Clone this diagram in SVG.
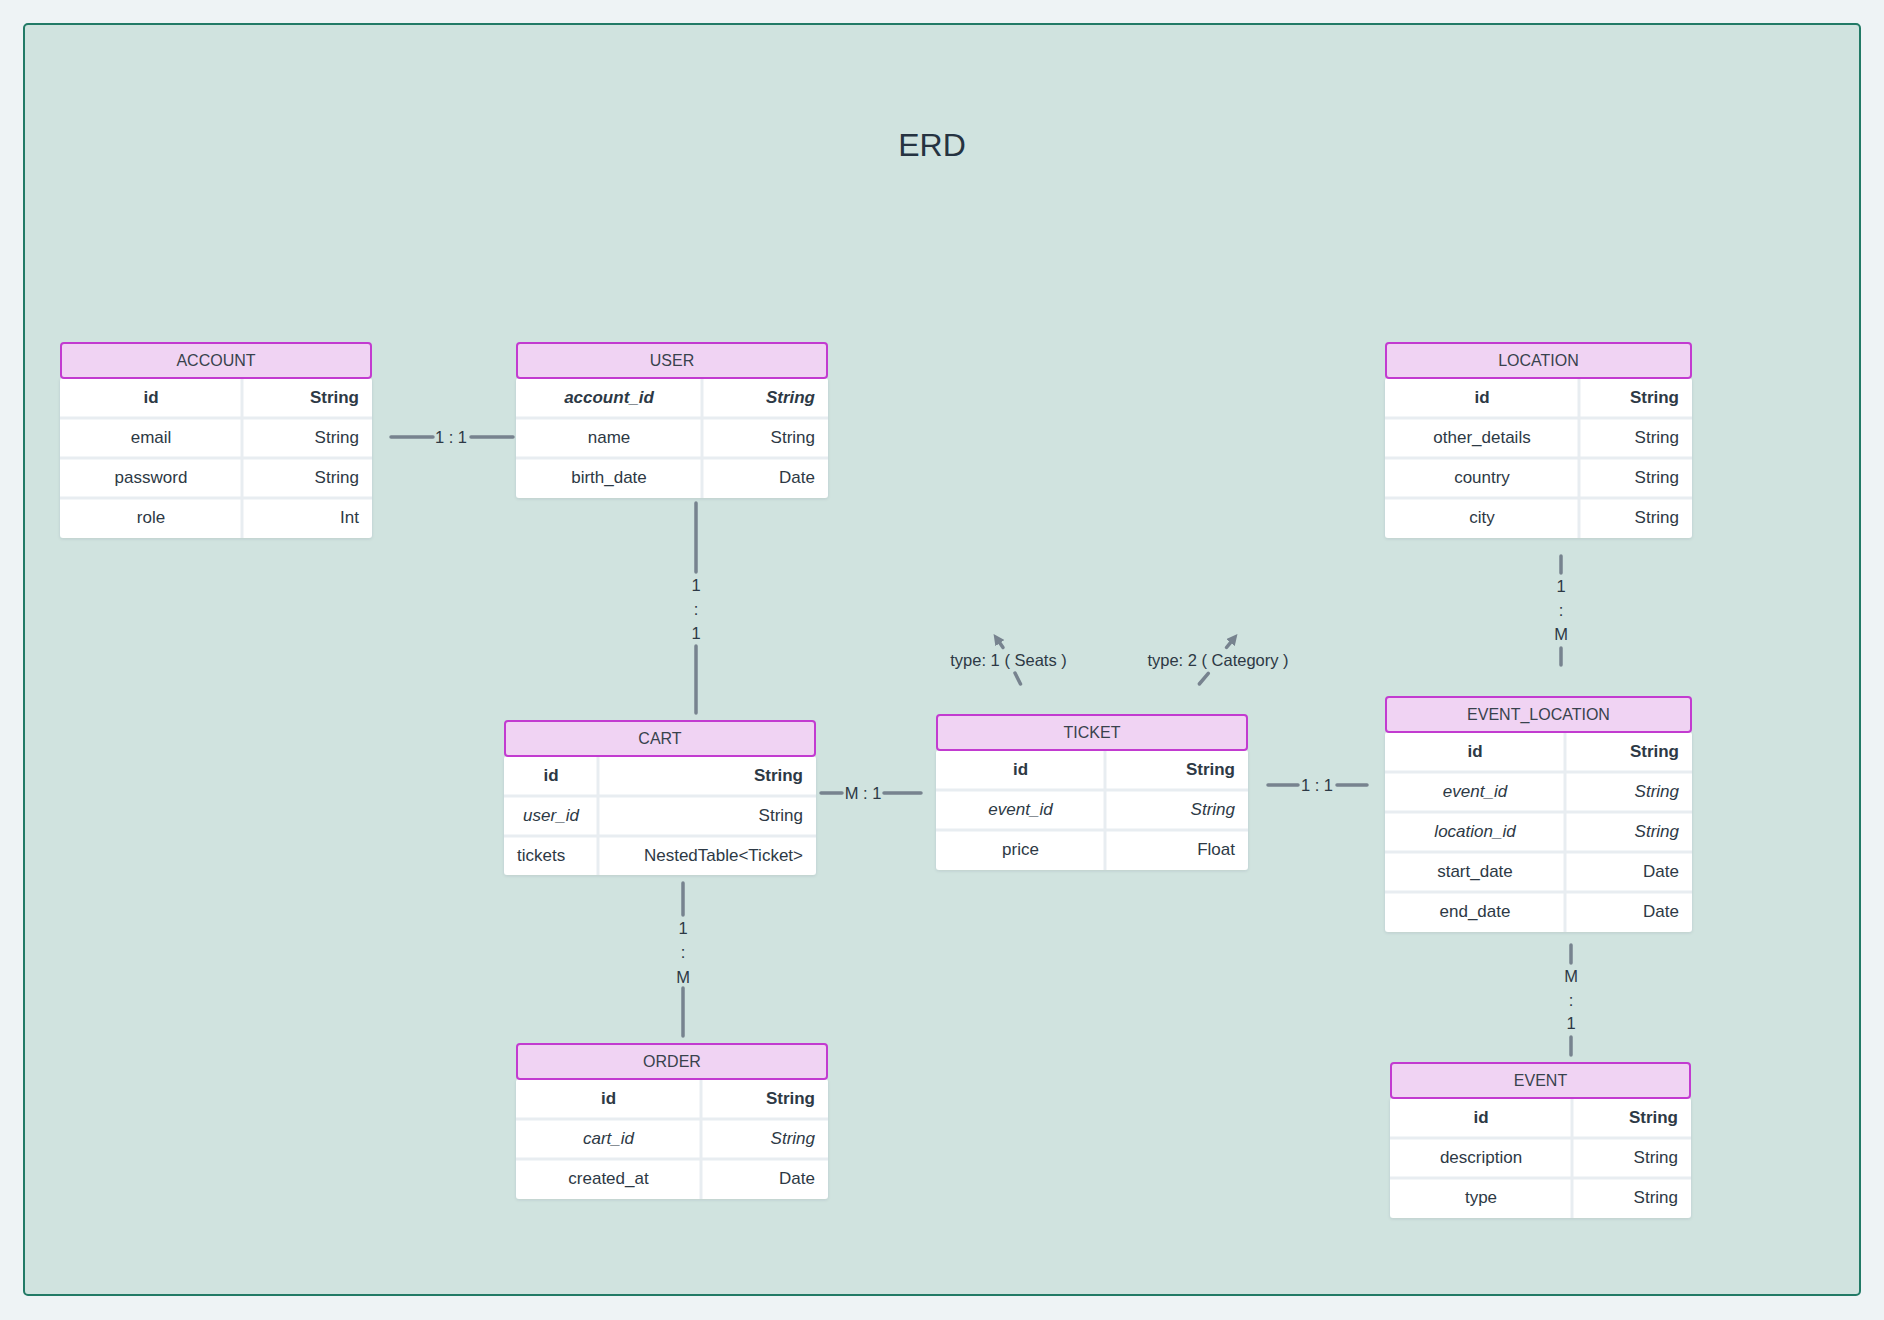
<svg xmlns="http://www.w3.org/2000/svg" width="1884" height="1320" viewBox="0 0 1884 1320">
  <defs>
    <filter id="sh" x="-5%" y="-5%" width="110%" height="115%">
      <feDropShadow dx="0" dy="1" stdDeviation="1.5" flood-color="#2b3a46" flood-opacity="0.12"/>
    </filter>
    <marker id="ah" viewBox="0 0 10 10" refX="0" refY="5" markerWidth="11" markerHeight="11" markerUnits="userSpaceOnUse" orient="auto">
      <path d="M0,0 L10,5 L0,10 z" fill="#77838f"/>
    </marker>
    <style>
      .bg { fill: #eef3f5; }
      .frame { fill: #d0e3df; stroke: #227a66; stroke-width: 2; }
      .title { font-family: "Liberation Sans", Arial, sans-serif; font-size: 32px; fill: #253341; text-anchor: middle; }
      .hdr { fill: #f0d3f3; stroke: #c23bd0; stroke-width: 2; }
      .body { fill: #ffffff; filter: url(#sh); }
      .sep { stroke: #e8edf1; stroke-width: 3; }
      .t { font-family: "Liberation Sans", Arial, sans-serif; font-size: 17px; fill: #2d3945; }
      .h { font-size: 16px; fill: #38424d; text-anchor: middle; }
      .c { text-anchor: middle; }
      .r { text-anchor: end; }
      .s { text-anchor: start; }
      .b { font-weight: bold; }
      .i { font-style: italic; }
      .edge { stroke: #77838f; stroke-width: 3.5; stroke-linecap: round; fill: none; }
      .lbl { font-family: "Liberation Sans", Arial, sans-serif; font-size: 16.5px; fill: #2d3945; text-anchor: middle; }
    </style>
  </defs>

  <rect class="bg" x="0" y="0" width="1884" height="1320"/>
  <rect class="frame" x="24" y="24" width="1836" height="1271" rx="4"/>
  <text class="title" x="932" y="156">ERD</text>

  <!-- ACCOUNT -->
  <g id="account">
    <rect class="body" x="60" y="378" width="312" height="160" rx="3"/>
    <line class="sep" x1="60" y1="418" x2="372" y2="418"/>
    <line class="sep" x1="60" y1="458" x2="372" y2="458"/>
    <line class="sep" x1="60" y1="498" x2="372" y2="498"/>
    <line class="sep" x1="242" y1="378" x2="242" y2="538"/>
    <rect class="hdr" x="61" y="343" width="310" height="35" rx="3"/>
    <text class="t h" x="216" y="365.5">ACCOUNT</text>
    <text class="t c b" x="151" y="403">id</text>
    <text class="t r b" x="359" y="403">String</text>
    <text class="t c" x="151" y="443">email</text>
    <text class="t r" x="359" y="443">String</text>
    <text class="t c" x="151" y="483">password</text>
    <text class="t r" x="359" y="483">String</text>
    <text class="t c" x="151" y="523">role</text>
    <text class="t r" x="359" y="523">Int</text>
  </g>

  <!-- USER -->
  <g id="user">
    <rect class="body" x="516" y="378" width="312" height="120" rx="3"/>
    <line class="sep" x1="516" y1="418" x2="828" y2="418"/>
    <line class="sep" x1="516" y1="458" x2="828" y2="458"/>
    <line class="sep" x1="702" y1="378" x2="702" y2="498"/>
    <rect class="hdr" x="517" y="343" width="310" height="35" rx="3"/>
    <text class="t h" x="672" y="365.5">USER</text>
    <text class="t c b i" x="609" y="403">account_id</text>
    <text class="t r b i" x="815" y="403">String</text>
    <text class="t c" x="609" y="443">name</text>
    <text class="t r" x="815" y="443">String</text>
    <text class="t c" x="609" y="483">birth_date</text>
    <text class="t r" x="815" y="483">Date</text>
  </g>

  <!-- LOCATION -->
  <g id="location">
    <rect class="body" x="1385" y="378" width="307" height="160" rx="3"/>
    <line class="sep" x1="1385" y1="418" x2="1692" y2="418"/>
    <line class="sep" x1="1385" y1="458" x2="1692" y2="458"/>
    <line class="sep" x1="1385" y1="498" x2="1692" y2="498"/>
    <line class="sep" x1="1579" y1="378" x2="1579" y2="538"/>
    <rect class="hdr" x="1386" y="343" width="305" height="35" rx="3"/>
    <text class="t h" x="1538.5" y="365.5">LOCATION</text>
    <text class="t c b" x="1482" y="403">id</text>
    <text class="t r b" x="1679" y="403">String</text>
    <text class="t c" x="1482" y="443">other_details</text>
    <text class="t r" x="1679" y="443">String</text>
    <text class="t c" x="1482" y="483">country</text>
    <text class="t r" x="1679" y="483">String</text>
    <text class="t c" x="1482" y="523">city</text>
    <text class="t r" x="1679" y="523">String</text>
  </g>

  <!-- CART -->
  <g id="cart">
    <rect class="body" x="504" y="756" width="312" height="119" rx="3"/>
    <line class="sep" x1="504" y1="796" x2="816" y2="796"/>
    <line class="sep" x1="504" y1="836" x2="816" y2="836"/>
    <line class="sep" x1="598" y1="756" x2="598" y2="875"/>
    <rect class="hdr" x="505" y="721" width="310" height="35" rx="3"/>
    <text class="t h" x="660" y="743.5">CART</text>
    <text class="t c b" x="551" y="781">id</text>
    <text class="t r b" x="803" y="781">String</text>
    <text class="t c i" x="551" y="821">user_id</text>
    <text class="t r" x="803" y="821">String</text>
    <text class="t s" x="517" y="861">tickets</text>
    <text class="t r" x="803" y="861">NestedTable&lt;Ticket&gt;</text>
  </g>

  <!-- TICKET -->
  <g id="ticket">
    <rect class="body" x="936" y="750" width="312" height="120" rx="3"/>
    <line class="sep" x1="936" y1="790" x2="1248" y2="790"/>
    <line class="sep" x1="936" y1="830" x2="1248" y2="830"/>
    <line class="sep" x1="1105" y1="750" x2="1105" y2="870"/>
    <rect class="hdr" x="937" y="715" width="310" height="35" rx="3"/>
    <text class="t h" x="1092" y="737.5">TICKET</text>
    <text class="t c b" x="1020.5" y="775">id</text>
    <text class="t r b" x="1235" y="775">String</text>
    <text class="t c i" x="1020.5" y="815">event_id</text>
    <text class="t r i" x="1235" y="815">String</text>
    <text class="t c" x="1020.5" y="855">price</text>
    <text class="t r" x="1235" y="855">Float</text>
  </g>

  <!-- EVENT_LOCATION -->
  <g id="event_location">
    <rect class="body" x="1385" y="732" width="307" height="200" rx="3"/>
    <line class="sep" x1="1385" y1="772" x2="1692" y2="772"/>
    <line class="sep" x1="1385" y1="812" x2="1692" y2="812"/>
    <line class="sep" x1="1385" y1="852" x2="1692" y2="852"/>
    <line class="sep" x1="1385" y1="892" x2="1692" y2="892"/>
    <line class="sep" x1="1565" y1="732" x2="1565" y2="932"/>
    <rect class="hdr" x="1386" y="697" width="305" height="35" rx="3"/>
    <text class="t h" x="1538.5" y="719.5">EVENT_LOCATION</text>
    <text class="t c b" x="1475" y="757">id</text>
    <text class="t r b" x="1679" y="757">String</text>
    <text class="t c i" x="1475" y="797">event_id</text>
    <text class="t r i" x="1679" y="797">String</text>
    <text class="t c i" x="1475" y="837">location_id</text>
    <text class="t r i" x="1679" y="837">String</text>
    <text class="t c" x="1475" y="877">start_date</text>
    <text class="t r" x="1679" y="877">Date</text>
    <text class="t c" x="1475" y="917">end_date</text>
    <text class="t r" x="1679" y="917">Date</text>
  </g>

  <!-- ORDER -->
  <g id="order">
    <rect class="body" x="516" y="1079" width="312" height="120" rx="3"/>
    <line class="sep" x1="516" y1="1119" x2="828" y2="1119"/>
    <line class="sep" x1="516" y1="1159" x2="828" y2="1159"/>
    <line class="sep" x1="701" y1="1079" x2="701" y2="1199"/>
    <rect class="hdr" x="517" y="1044" width="310" height="35" rx="3"/>
    <text class="t h" x="672" y="1066.5">ORDER</text>
    <text class="t c b" x="608.5" y="1104">id</text>
    <text class="t r b" x="815" y="1104">String</text>
    <text class="t c i" x="608.5" y="1144">cart_id</text>
    <text class="t r i" x="815" y="1144">String</text>
    <text class="t c" x="608.5" y="1184">created_at</text>
    <text class="t r" x="815" y="1184">Date</text>
  </g>

  <!-- EVENT -->
  <g id="event">
    <rect class="body" x="1390" y="1098" width="301" height="120" rx="3"/>
    <line class="sep" x1="1390" y1="1138" x2="1691" y2="1138"/>
    <line class="sep" x1="1390" y1="1178" x2="1691" y2="1178"/>
    <line class="sep" x1="1572" y1="1098" x2="1572" y2="1218"/>
    <rect class="hdr" x="1391" y="1063" width="299" height="35" rx="3"/>
    <text class="t h" x="1540.5" y="1085.5">EVENT</text>
    <text class="t c b" x="1481" y="1123">id</text>
    <text class="t r b" x="1678" y="1123">String</text>
    <text class="t c" x="1481" y="1163">description</text>
    <text class="t r" x="1678" y="1163">String</text>
    <text class="t c" x="1481" y="1203">type</text>
    <text class="t r" x="1678" y="1203">String</text>
  </g>

  <!-- relationships -->
  <g id="connectors">
    <!-- ACCOUNT - USER -->
    <path class="edge" d="M391,437 H433"/>
    <path class="edge" d="M471,437 H513"/>
    <text class="lbl" x="451" y="442.8">1 : 1</text>

    <!-- USER - CART -->
    <path class="edge" d="M696,503 V572"/>
    <path class="edge" d="M696,646 V713"/>
    <text class="lbl" x="696" y="590.7">1</text>
    <text class="lbl" x="696" y="614.5">:</text>
    <text class="lbl" x="696" y="638.7">1</text>

    <!-- CART - TICKET -->
    <path class="edge" d="M821,793 H842"/>
    <path class="edge" d="M884,793 H921"/>
    <text class="lbl" x="863" y="798.8">M : 1</text>

    <!-- TICKET - EVENT_LOCATION -->
    <path class="edge" d="M1268,785 H1298"/>
    <path class="edge" d="M1337,785 H1367"/>
    <text class="lbl" x="1317" y="790.8">1 : 1</text>

    <!-- LOCATION - EVENT_LOCATION -->
    <path class="edge" d="M1561,556 V573"/>
    <path class="edge" d="M1561,648 V665"/>
    <text class="lbl" x="1561" y="592">1</text>
    <text class="lbl" x="1561" y="615.5">:</text>
    <text class="lbl" x="1561" y="640">M</text>

    <!-- CART - ORDER -->
    <path class="edge" d="M683,883 V915"/>
    <path class="edge" d="M683,988 V1036"/>
    <text class="lbl" x="683" y="934">1</text>
    <text class="lbl" x="683" y="957.5">:</text>
    <text class="lbl" x="683" y="982.5">M</text>

    <!-- EVENT_LOCATION - EVENT -->
    <path class="edge" d="M1571,945 V963"/>
    <path class="edge" d="M1571,1037 V1055"/>
    <text class="lbl" x="1571" y="982">M</text>
    <text class="lbl" x="1571" y="1006">:</text>
    <text class="lbl" x="1571" y="1029">1</text>

    <!-- TICKET type 1 -->
    <path class="edge" d="M1020.5,684 L1015,673"/>
    <path class="edge" d="M1003,647.5 L999.9,643.1" marker-end="url(#ah)"/>
    <text class="lbl" x="1008.5" y="665.7">type: 1 ( Seats )</text>

    <!-- TICKET type 2 -->
    <path class="edge" d="M1199.3,684 L1208.3,673.3"/>
    <path class="edge" d="M1226.5,647.5 L1230.5,642.6" marker-end="url(#ah)"/>
    <text class="lbl" x="1218" y="665.7">type: 2 ( Category )</text>
  </g>
</svg>
